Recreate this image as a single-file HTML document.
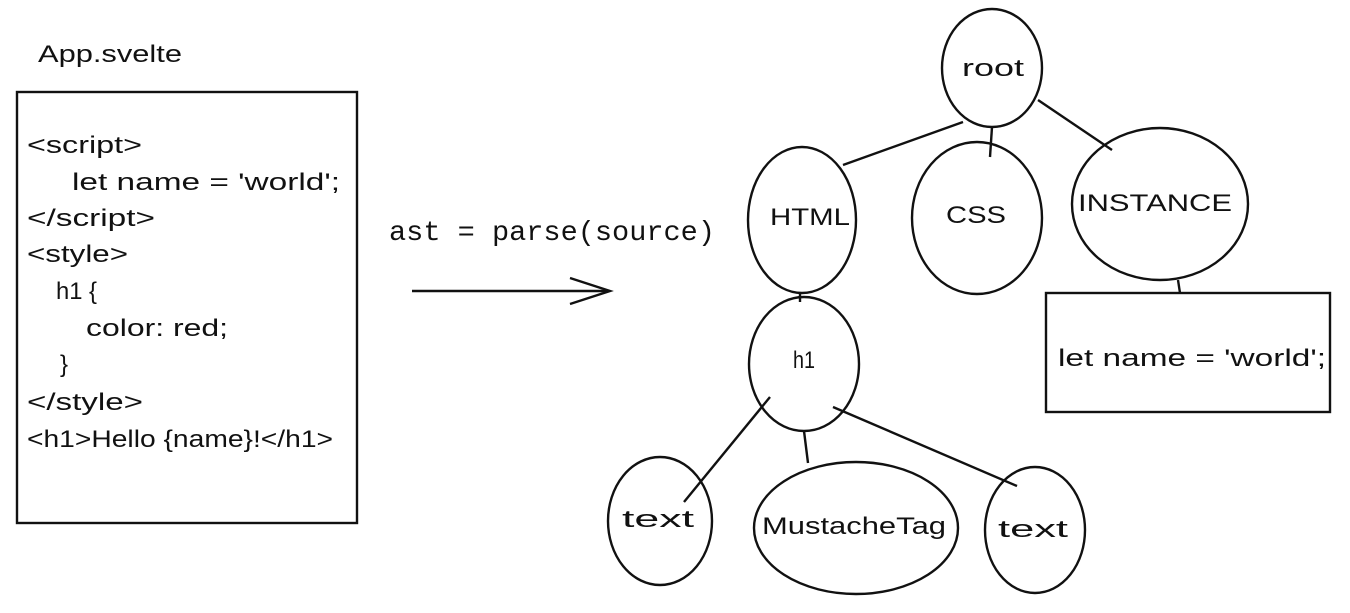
<!DOCTYPE html>
<html><head><meta charset="utf-8"><style>
body{margin:0;background:#fff;width:1350px;height:608px;overflow:hidden}
svg text{font-family:"Liberation Sans",sans-serif;fill:#111}
</style></head><body>
<svg width="1350" height="608" viewBox="0 0 1350 608" xmlns="http://www.w3.org/2000/svg">
<g stroke="#111" stroke-width="2.4" fill="none">
<rect x="17" y="92" width="340" height="431"/>
<rect x="1046" y="293" width="284" height="119"/>
<line x1="412" y1="291" x2="608" y2="291"/>
<polyline points="570,278 610,291 570,304"/>
<ellipse cx="992" cy="68" rx="50" ry="59"/>
<ellipse cx="802" cy="220" rx="54" ry="73"/>
<ellipse cx="977" cy="218" rx="65" ry="76"/>
<ellipse cx="1160" cy="204" rx="88" ry="76"/>
<ellipse cx="804" cy="364" rx="55" ry="67"/>
<ellipse cx="660" cy="521" rx="52" ry="64"/>
<ellipse cx="856" cy="528" rx="102" ry="66"/>
<ellipse cx="1035" cy="530" rx="50" ry="63"/>
<line x1="963" y1="122" x2="843" y2="165"/>
<line x1="992" y1="127" x2="990" y2="157"/>
<line x1="1038" y1="100" x2="1112" y2="150"/>
<line x1="800" y1="293" x2="800" y2="302"/>
<line x1="1178" y1="280" x2="1180" y2="293"/>
<line x1="770" y1="397" x2="684" y2="502"/>
<line x1="804" y1="431" x2="808" y2="463"/>
<line x1="833" y1="407" x2="1017" y2="486"/>
</g>
<g font-size="24">
<text x="38" y="62" textLength="144" lengthAdjust="spacingAndGlyphs">App.svelte</text>
<text x="27" y="153" textLength="115" lengthAdjust="spacingAndGlyphs">&lt;script&gt;</text>
<text x="72" y="190" textLength="268" lengthAdjust="spacingAndGlyphs">let name = 'world';</text>
<text x="27" y="226" textLength="128" lengthAdjust="spacingAndGlyphs">&lt;/script&gt;</text>
<text x="27" y="262" textLength="101" lengthAdjust="spacingAndGlyphs">&lt;style&gt;</text>
<text x="56" y="299" textLength="41" lengthAdjust="spacingAndGlyphs">h1 {</text>
<text x="86" y="336" textLength="142" lengthAdjust="spacingAndGlyphs">color: red;</text>
<text x="60" y="372">}</text>
<text x="27" y="410" textLength="116" lengthAdjust="spacingAndGlyphs">&lt;/style&gt;</text>
<text x="27" y="447" textLength="306" lengthAdjust="spacingAndGlyphs">&lt;h1&gt;Hello {name}!&lt;/h1&gt;</text>
</g>
<text x="389" y="240" font-size="28" textLength="326" lengthAdjust="spacingAndGlyphs" style="font-family:'Liberation Mono',monospace">ast = parse(source)</text>
<g font-size="24">
<text x="962" y="76" textLength="62" lengthAdjust="spacingAndGlyphs">root</text>
<text x="770" y="225" textLength="80" lengthAdjust="spacingAndGlyphs">HTML</text>
<text x="946" y="223" textLength="60" lengthAdjust="spacingAndGlyphs">CSS</text>
<text x="1078" y="211" textLength="154" lengthAdjust="spacingAndGlyphs">INSTANCE</text>
<text x="793" y="368" textLength="22" lengthAdjust="spacingAndGlyphs">h1</text>
<text x="622" y="527" textLength="72" lengthAdjust="spacingAndGlyphs">text</text>
<text x="762" y="534" textLength="184" lengthAdjust="spacingAndGlyphs">MustacheTag</text>
<text x="998" y="537" textLength="70" lengthAdjust="spacingAndGlyphs">text</text>
<text x="1058" y="366" textLength="268" lengthAdjust="spacingAndGlyphs">let name = 'world';</text>
</g>
</svg>
</body></html>
